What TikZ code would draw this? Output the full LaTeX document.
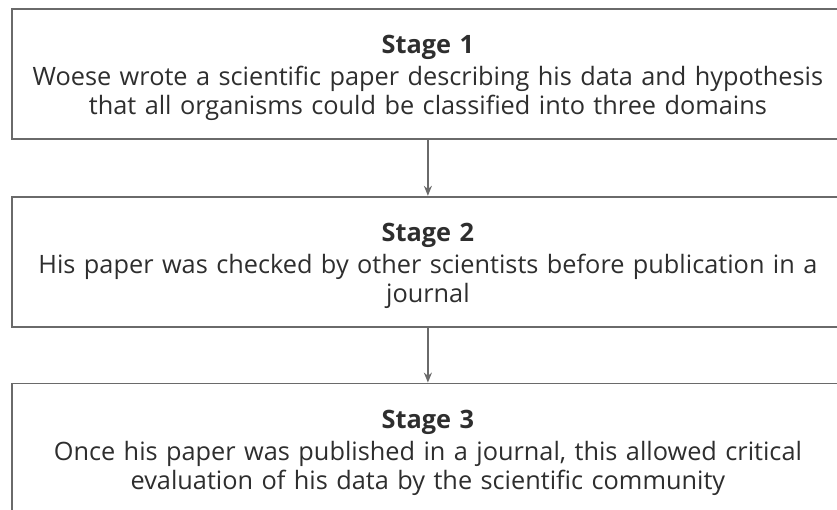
\documentclass[tikz,border=0pt]{standalone}
\usepackage{fontspec}
\setmainfont{Open Sans}
\usetikzlibrary{positioning,arrows.meta}
\definecolor{inkgray}{HTML}{2E2E2E}
\definecolor{linegray}{HTML}{6A6A6A}
\newcommand{\stagestrut}{\rule{0pt}{27pt}}
\begin{document}
\begin{tikzpicture}[x=1pt,y=1pt,
  stagebox/.style={draw=linegray, line width=1.8pt, text=inkgray, anchor=north west,
    text width=826pt, inner xsep=3pt, inner ysep=0pt, minimum height=130pt,
    align=center, font=\fontsize{25.3}{29}\selectfont},
  stagearrow/.style={draw=linegray, line width=1.3pt, -{Stealth[length=10pt,width=8pt]}}]
\clip (0,0) rectangle (837,-510);
\fill[white] (0,0) rectangle (837,-510);
\node[stagebox] (stage1) at (11,-8) {\stagestrut\textbf{Stage 1}\\[3pt]
  Woese wrote a scientific paper describing his data and hypothesis\\
  that all organisms could be classified into three domains};
\node[stagebox, below=56pt of stage1.south west, anchor=north west] (stage2) {\stagestrut\textbf{Stage 2}\\[3pt]
  His paper was checked by other scientists before publication in a\\
  journal};
% last box runs off the bottom edge
\node[stagebox, minimum height=138pt, below=55pt of stage2.south west, anchor=north west] (stage3) {\textbf{Stage 3}\\[3pt]
  Once his paper was published in a journal, this allowed critical\\
  evaluation of his data by the scientific community};
\draw[stagearrow] (stage1) -- (stage2);
\draw[stagearrow] (stage2) -- (stage3);
\end{tikzpicture}
\end{document}
